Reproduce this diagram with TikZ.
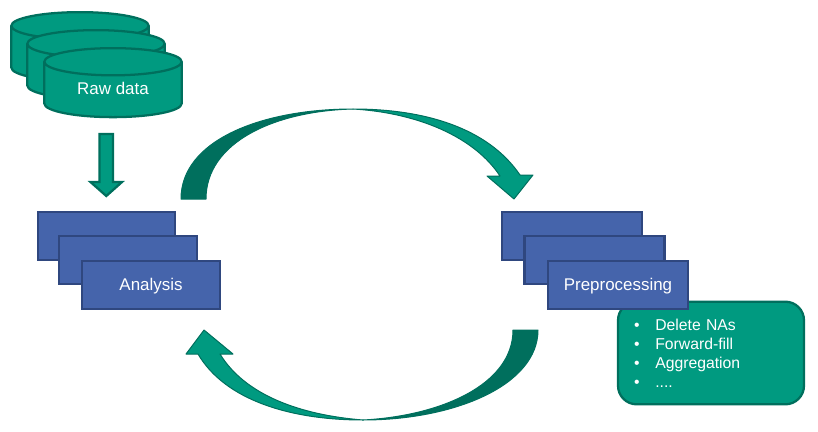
\documentclass[tikz,border=0pt]{standalone}
\usepackage{fontspec}
\setmainfont{Liberation Sans}
\usetikzlibrary{shapes.geometric}
\definecolor{tealFill}{HTML}{009A80}
\definecolor{tealDark}{HTML}{006F5D}
\definecolor{blueFill}{HTML}{4564AB}
\definecolor{blueLine}{HTML}{2F477F}
\newcommand{\bulletItem}[1]{\makebox[16pt][l]{\textbullet}#1}
\newcommand{\nudgeText}[2]{\raisebox{#1}[\height][\depth]{#2}}
\tikzset{
	labelText/.style={text=white,font=\fontsize{12.7}{14.3}\selectfont},
	dataDisk/.style={shape=cylinder,shape border rotate=90,aspect=0.38,draw=tealDark,fill=tealFill,line width=1.7pt,minimum width=103pt,minimum height=51.75pt,inner sep=0pt,labelText},
	stepBox/.style={rectangle,draw=blueLine,fill=blueFill,line width=1.7pt,minimum height=36pt,inner sep=0pt,labelText},
	bandLine/.style={draw=tealDark,line width=0.75pt,line join=round}
}
\begin{document}
\begin{tikzpicture}[x=0.75pt,y=-0.75pt]
	\useasboundingbox (0,0) rectangle (818,432);
	% raw data
	\node[dataDisk] (diskA) at (80,54) {\phantom{Raw data}};
	\node[dataDisk] (diskB) at (96,72) {\phantom{Raw data}};
	\node[dataDisk] (diskC) at (113,90) {\nudgeText{1.5pt}{Raw data}};
	\draw[draw=tealDark,fill=tealFill,line width=1.7pt,line join=miter] (99.5,134) -- (113,134) -- (113,182) -- (122,182) -- (106.3,196) -- (90.5,182) -- (99.5,182) -- cycle;
	% analysis
	\node[stepBox,minimum width=103pt] (analysisA) at (106.5,236) {};
	\node[stepBox,minimum width=103pt] (analysisB) at (128,260) {};
	\node[stepBox,minimum width=103pt] (analysisC) at (151,285) {\nudgeText{-0.75pt}{Analysis}};
	% preprocessing
	\node[rectangle,rounded corners=14pt,draw=tealDark,fill=tealFill,line width=1.7pt,minimum height=77pt,inner xsep=12pt,text width=115.5pt,align=left,labelText,font=\fontsize{11.8}{14.3}\selectfont] (prepList) at (711,353) {\bulletItem{Delete NAs}\\\bulletItem{Forward-fill}\\\bulletItem{Aggregation}\\\bulletItem{....}};
	\node[stepBox,minimum width=105pt] (prepA) at (572,236) {};
	\node[stepBox,minimum width=105pt] (prepB) at (594.5,260) {};
	\node[stepBox,minimum width=105pt] (prepC) at (618,285) {\nudgeText{-0.75pt}{Preprocessing}};
	% top curved arrow
	\draw[bandLine,fill=tealFill] (353,109) .. controls (425,109) and (488,128) .. (520,175) -- (533,175) -- (514,199) -- (487,176) -- (500,176) .. controls (475,138) and (420,113) .. (353,109) -- cycle;
	\draw[bandLine,fill=tealDark] (181,199) .. controls (181,140) and (262,109) .. (353,109) .. controls (275,111) and (206,142) .. (206,199) -- cycle;
	% bottom curved arrow
	\draw[bandLine,fill=tealFill] (363,420) .. controls (290,420) and (225,400) .. (198,354) -- (186,354) -- (204,330) -- (233,354) -- (220,354) .. controls (245,395) and (300,415) .. (363,420) -- cycle;
	\draw[bandLine,fill=tealDark] (538,330) .. controls (538,385) and (455,420) .. (363,420) .. controls (440,416) and (513,385) .. (513,330) -- cycle;
\end{tikzpicture}
\end{document}
